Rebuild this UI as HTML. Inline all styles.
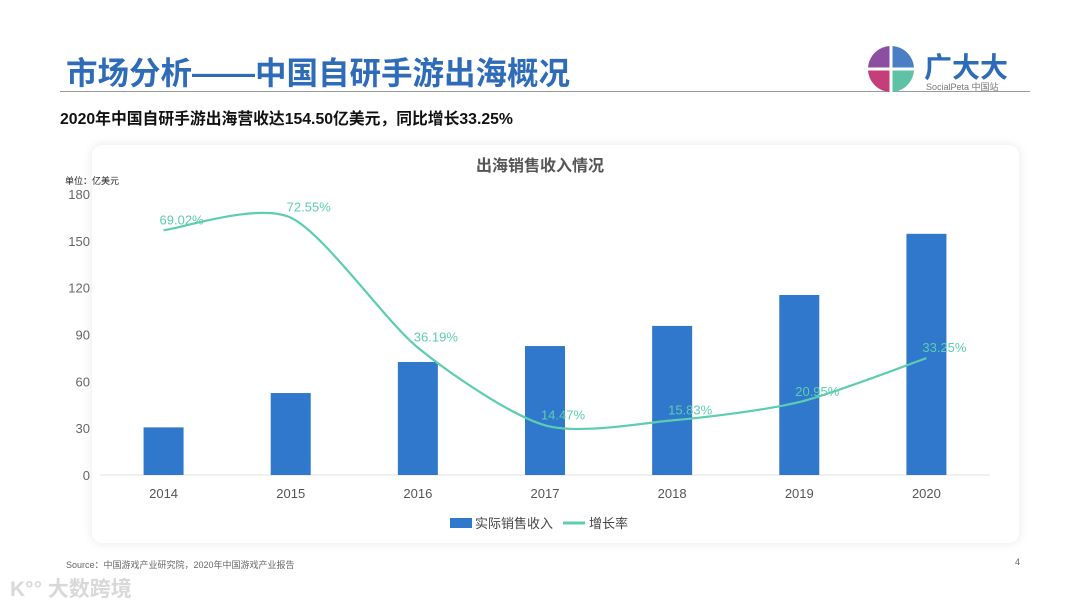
<!DOCTYPE html>
<html><head><meta charset="utf-8">
<style>
body{margin:0;width:1080px;height:608px;background:#fff;font-family:"Liberation Sans","Noto Sans CJK SC",sans-serif;position:relative;overflow:hidden}
.abs{position:absolute}
</style></head><body>
<div class="abs" style="left:66px;top:48px;font-size:31.5px;font-weight:bold;color:#2e6bb8">市场分析——中国自研手游出海概况</div>
<div class="abs" style="left:60px;top:91px;width:970px;height:1px;background:#999"></div>
<svg class="abs" style="left:868px;top:46px" width="46" height="46" viewBox="0 0 46 46">
<path d="M23 23 L23 0 A23 23 0 0 0 0 23Z" fill="#8a4fa0"/><path d="M23 23 L46 23 A23 23 0 0 0 23 0Z" fill="#4a7fc6"/>
<path d="M23 23 L0 23 A23 23 0 0 0 23 46Z" fill="#c43e7a"/><path d="M23 23 L23 46 A23 23 0 0 0 46 23Z" fill="#5fc1a6"/>
<rect x="21.5" y="0" width="3" height="46" fill="#fff"/><rect x="0" y="21.5" width="46" height="3" fill="#fff"/></svg>
<div class="abs" style="left:924px;top:46px;font-size:28px;font-weight:bold;color:#2e6bb8">广大大</div>
<div class="abs" style="left:926px;top:80px;font-size:9px;color:#777">SocialPeta 中国站</div>
<div class="abs" style="left:60px;top:106px;font-size:15.8px;font-weight:bold;color:#111">2020年中国自研手游出海营收达154.50亿美元，同比增长33.25%</div>
<div class="abs" style="left:92px;top:145px;width:927px;height:398px;background:#fff;border-radius:10px;box-shadow:0 0 10px rgba(0,0,0,0.10)"></div>
<svg class="abs" id="chart" style="left:0;top:0" width="1080" height="608"></svg>
<div class="abs" style="left:66px;top:558px;font-size:9px;color:#666">Source：中国游戏产业研究院，2020年中国游戏产业报告</div>
<div class="abs" style="left:1015px;top:557px;font-size:9px;color:#666">4</div>
<div class="abs" style="left:10px;top:573px;font-size:21px;color:#d8d8d8;font-weight:bold">K°° 大数跨境</div>
<script>
const categories=["2014","2015","2016","2017","2018","2019","2020"];
const revenue=[30.5,52.5,72.4,82.6,95.5,115.3,154.5];
const growth=[69.02,72.55,36.19,14.47,15.83,20.95,33.25];
const growthLabels=["69.02%","72.55%","36.19%","14.47%","15.83%","20.95%","33.25%"];
const yTicks=[0,30,60,90,120,150,180];
const NS="http://www.w3.org/2000/svg";
const svg=document.getElementById('chart');
function el(t,a,p){const e=document.createElementNS(NS,t);for(const k in a)e.setAttribute(k,a[k]);(p||svg).appendChild(e);return e;}
const x0=100,x1=990,y0=475,yTop=194;
const step=(x1-x0)/categories.length;
const xs=i=>x0+step*(i+0.5);
const yL=v=>y0-(v/180)*(y0-yTop);
const yR=v=>477-v*3.575;
let t=el('text',{x:540,y:171,'text-anchor':'middle','font-size':16,'font-weight':'bold',fill:'#555'});t.textContent='出海销售收入情况';


t=el('text',{x:65,y:184,'font-size':9,fill:'#222'});t.textContent='单位：亿美元';


yTicks.forEach(v=>{const tt=el('text',{x:90,y:yL(v)+5,'text-anchor':'end','font-size':13,fill:'#666'});tt.textContent=v;

});
const ax=el('line',{x1:x0,x2:x1,y1:y0,y2:y0,stroke:'#e0e0e0','stroke-width':1});


categories.forEach((c,i)=>{
const b=el('rect',{x:xs(i)-20,y:yL(revenue[i]),width:40,height:y0-yL(revenue[i]),fill:'#2f78cc'});


const tt=el('text',{x:xs(i),y:498,'text-anchor':'middle','font-size':13,fill:'#555'});tt.textContent=c;


});
const pts=growth.map((g,i)=>[xs(i),yR(g)]);
let d='M'+pts[0][0]+','+pts[0][1];
for(let i=0;i<pts.length-1;i++){const p0=pts[Math.max(i-1,0)],p1=pts[i],p2=pts[i+1],p3=pts[Math.min(i+2,pts.length-1)];
const k=0.13;d+=' C'+(p1[0]+(p2[0]-p0[0])*k)+','+(p1[1]+(p2[1]-p0[1])*k)+' '+(p2[0]-(p3[0]-p1[0])*k)+','+(p2[1]-(p3[1]-p1[1])*k)+' '+p2[0]+','+p2[1];}
const ln=el('path',{d:d,fill:'none',stroke:'#5ccdaf','stroke-width':2.2});


pts.forEach((p,i)=>{const tt=el('text',{x:p[0]+18,y:p[1]-6,'text-anchor':'middle','font-size':13,fill:'#5ccdaf'});tt.textContent=growthLabels[i];

});
const lg=el('rect',{x:450,y:518,width:22,height:10,fill:'#2f78cc'});


t=el('text',{x:475,y:528,'font-size':13,fill:'#444'});t.textContent='实际销售收入';


const ll=el('line',{x1:563,x2:585,y1:523,y2:523,stroke:'#5ccdaf','stroke-width':3});


t=el('text',{x:589,y:528,'font-size':13,fill:'#444'});t.textContent='增长率';


</script>
</body></html>
